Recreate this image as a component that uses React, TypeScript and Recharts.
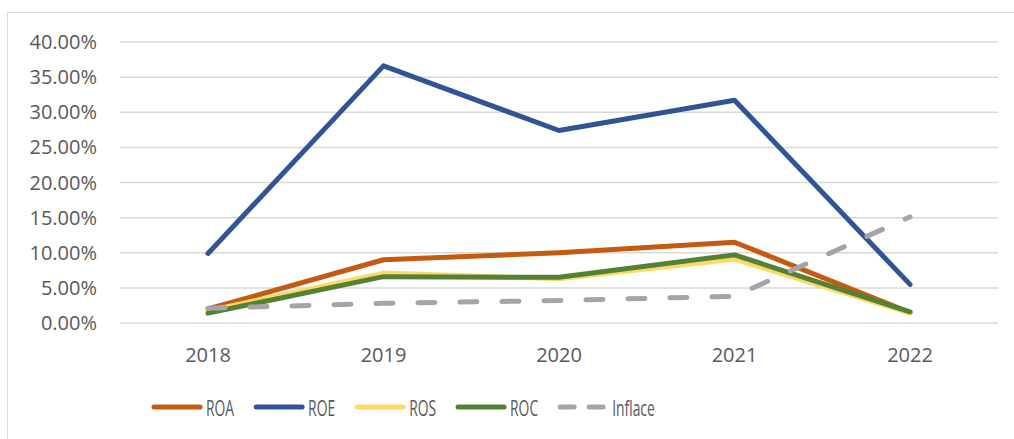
import React from "react";
import { LineChart, Line, XAxis, YAxis, CartesianGrid, Legend } from "recharts";

const years = ["2018", "2019", "2020", "2021", "2022"];
const roa = [2.0, 9.0, 10.0, 11.5, 1.5];
const roe = [9.9, 36.6, 27.4, 31.7, 5.5];
const ros = [1.7, 7.1, 6.3, 9.1, 1.4];
const roc = [1.4, 6.6, 6.5, 9.7, 1.6];
const inflace = [2.1, 2.8, 3.2, 3.8, 15.1];
const yTicks = [0, 5, 10, 15, 20, 25, 30, 35, 40];

const seriesNames = ["ROA", "ROE", "ROS", "ROC", "Inflace"];
const seriesKeys = ["roa", "roe", "ros", "roc", "inflace"];
const seriesColors = ["#C55A11", "#2F5597", "#FFD966", "#548235", "#A5A5A5"];
const seriesDashed = [false, false, false, false, true];

const data = years.map((y, i) => ({
  year: y,
  roa: roa[i],
  roe: roe[i],
  ros: ros[i],
  roc: roc[i],
  inflace: inflace[i],
}));

const FONT = "'Open Sans', 'Noto Sans', sans-serif";
const TEXT = "#595959";
const LEGEND_FS = 21;

let measureCtx: CanvasRenderingContext2D | null = null;
function measure(text: string): number {
  if (!measureCtx) {
    const c = document.createElement("canvas");
    measureCtx = c.getContext("2d");
  }
  if (!measureCtx) return text.length * 12;
  measureCtx.font = `${LEGEND_FS}px 'Open Sans'`;
  return measureCtx.measureText(text).width;
}

const LegendContent = () => {
  const squeeze = 0.66;
  let x = 152;
  const items = seriesNames.map((name, i) => {
    const lineX = x;
    const textX = lineX + 54;
    const tw = measure(name) * squeeze;
    x = textX + tw + 20;
    return (
      <g key={name}>
        {seriesDashed[i] ? (
          <>
            <line x1={lineX + 2} x2={lineX + 16} y1={14} y2={14} stroke={seriesColors[i]} strokeWidth={5} strokeLinecap="round" />
            <line x1={lineX + 31} x2={lineX + 45} y1={14} y2={14} stroke={seriesColors[i]} strokeWidth={5} strokeLinecap="round" />
          </>
        ) : (
          <line x1={lineX + 2} x2={lineX + 48} y1={14} y2={14} stroke={seriesColors[i]} strokeWidth={5} strokeLinecap="round" />
        )}
        <text
          transform={`translate(${textX},22.5) scale(${squeeze},1)`}
          fontFamily={FONT}
          fontSize={LEGEND_FS}
          fill={TEXT}
        >
          {name}
        </text>
      </g>
    );
  });
  return (
    <svg width={1014} height={34} style={{ display: "block", overflow: "visible" }}>
      {items}
    </svg>
  );
};

export default function App() {
  return (
    <div style={{ position: "absolute", left: 0, top: 0, width: 1014, height: 439, background: "#fff", overflow: "hidden" }}>
      <div
        style={{
          position: "absolute",
          left: 7,
          top: 12,
          width: 1020,
          height: 440,
          border: "1.5px solid #d9d9d9",
        }}
      />
      <div style={{ position: "absolute", left: 0, top: 0 }}>
        <LineChart
          width={1014}
          height={439}
          data={data}
          margin={{ top: 42, right: 16, left: 10, bottom: 76 }}
        >
          <CartesianGrid vertical={false} stroke="#d9d9d9" strokeWidth={1.5} />
          <XAxis
            dataKey="year"
            axisLine={false}
            tickLine={false}
            tickSize={0}
            tickMargin={25}
            height={40}
            padding={{ left: 88, right: 88 }}
            tick={{ fill: TEXT, fontSize: 20, fontFamily: FONT }}
            interval={0}
          />
          <YAxis
            domain={[0, 40]}
            ticks={yTicks}
            axisLine={false}
            tickLine={false}
            tickSize={0}
            tickMargin={23}
            width={110}
            interval={0}
            tickFormatter={(v: number) => v.toFixed(2) + "%"}
            tick={{ fill: TEXT, fontSize: 20, fontFamily: FONT }}
          />
          {seriesKeys.map((k, i) => (
            <Line
              key={k}
              type="linear"
              dataKey={k}
              name={seriesNames[i]}
              stroke={seriesColors[i]}
              strokeWidth={5}
              strokeLinecap="round"
              strokeLinejoin="round"
              strokeDasharray={seriesDashed[i] ? "17 25" : undefined}
              dot={false}
              activeDot={false}
              isAnimationActive={false}
            />
          ))}
          <Legend
            verticalAlign="middle"
            align="center"
            layout="horizontal"
            content={<LegendContent />}
            wrapperStyle={{ position: "absolute", left: 0, top: 393, width: 1014, height: 34 }}
          />
        </LineChart>
      </div>
    </div>
  );
}
